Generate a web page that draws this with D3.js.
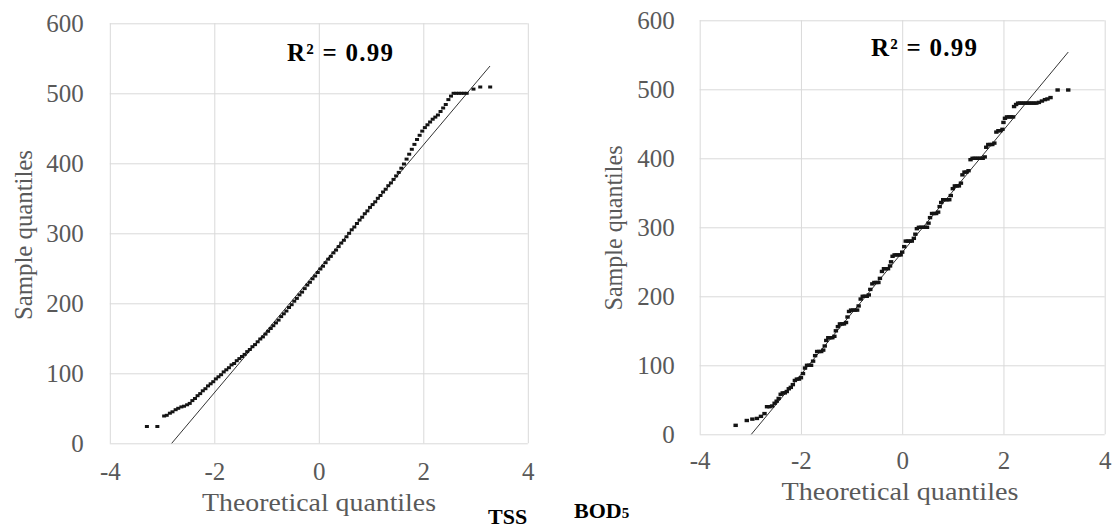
<!DOCTYPE html>
<html>
<head>
<meta charset="utf-8">
<script src="https://cdn.jsdelivr.net/npm/d3@7"></script>
<style>
  body { margin: 0; background: #fff; }
  text { font-family: "Liberation Serif", "Times New Roman", serif; }
</style>
</head>
<body>
<svg id="chart" width="1114" height="530"></svg>
<script>
// tick values shared by both panels
var xTicks = [-4, -2, 0, 2, 4];
var yTicks = [0, 100, 200, 300, 400, 500, 600];
var r2Label = "R\u00B2 = 0.99";
var xTitle = "Theoretical quantiles";
var yTitle = "Sample quantiles";

// TSS: [theoretical quantile, sample quantile]
var tssPoints = [
  [-3.29,24],[-3.09,24],[-2.96,39],[-2.91,40],[-2.85,43],[-2.80,45],[-2.74,48],[-2.69,50],
  [-2.63,52],[-2.58,53],[-2.52,55],[-2.47,57],[-2.42,61],[-2.37,64],[-2.32,68],[-2.27,71],
  [-2.22,75],[-2.17,78],[-2.12,82],[-2.07,85],[-2.02,88],[-1.97,92],[-1.92,95],[-1.87,98],
  [-1.82,102],[-1.77,105],[-1.72,108],[-1.67,112],[-1.62,114],[-1.57,118],[-1.52,121],[-1.47,124],
  [-1.42,127],[-1.37,131],[-1.32,134],[-1.27,138],[-1.22,141],[-1.17,145],[-1.12,149],[-1.07,152],
  [-1.02,156],[-0.97,160],[-0.92,164],[-0.87,168],[-0.82,172],[-0.77,176],[-0.72,181],[-0.67,185],
  [-0.62,189],[-0.57,194],[-0.52,198],[-0.47,203],[-0.42,207],[-0.37,212],[-0.32,216],[-0.27,221],
  [-0.22,226],[-0.17,230],[-0.12,235],[-0.07,239],[-0.02,244],[0.03,249],[0.08,253],[0.13,258],
  [0.18,263],[0.23,267],[0.28,272],[0.33,276],[0.38,281],[0.43,286],[0.48,290],[0.53,295],
  [0.58,300],[0.63,305],[0.68,309],[0.73,314],[0.78,319],[0.83,323],[0.88,328],[0.93,332],
  [0.98,337],[1.03,341],[1.08,345],[1.13,350],[1.18,354],[1.23,359],[1.28,363],[1.33,368],
  [1.38,372],[1.43,377],[1.48,382],[1.53,387],[1.58,393],[1.63,399],[1.68,406],[1.73,413],
  [1.78,420],[1.83,427],[1.88,434],[1.93,440],[1.98,446],[2.03,451],[2.08,455],[2.13,459],
  [2.18,463],[2.23,466],[2.28,469],[2.33,474],[2.38,479],[2.43,484],[2.48,491],[2.53,496],
  [2.58,500],[2.63,500],[2.68,500],[2.73,500],[2.78,500],[2.83,500],[2.96,506],[3.09,509],[3.28,509]
];
var tssFit = [[-2.815,0],[3.277,539]];

// BOD5: [theoretical quantile, sample quantile]
var bodPoints = [
  [-3.29,13],[-3.07,20],[-2.96,22],[-2.87,23],[-2.79,26],[-2.72,30],
  [-2.67,40],[-2.62,40],[-2.57,41],[-2.52,45],[-2.48,48],[-2.44,52],
  [-2.40,58],[-2.36,60],[-2.32,60],[-2.28,62],[-2.24,66],[-2.20,68],[-2.16,72],
  [-2.12,78],[-2.08,80],[-2.04,80],[-2.00,82],[-1.96,88],
  [-1.92,96],[-1.88,100],[-1.84,100],[-1.80,100],[-1.76,106],
  [-1.72,114],[-1.68,120],[-1.64,120],[-1.60,120],[-1.56,122],[-1.53,128],
  [-1.50,136],[-1.46,140],[-1.42,140],[-1.38,140],[-1.34,142],[-1.31,150],
  [-1.27,156],[-1.23,160],[-1.19,160],[-1.15,160],[-1.11,162],[-1.08,170],
  [-1.05,178],[-1.01,180],[-0.97,180],[-0.93,180],[-0.89,180],[-0.86,186],
  [-0.82,196],[-0.78,200],[-0.74,200],[-0.70,200],[-0.66,202],[-0.63,210],
  [-0.59,218],[-0.55,220],[-0.51,220],[-0.47,220],[-0.44,226],
  [-0.40,236],[-0.36,240],[-0.32,240],[-0.28,240],[-0.24,244],[-0.22,250],
  [-0.19,258],[-0.15,260],[-0.11,260],[-0.07,260],[-0.03,260],[0.00,264],
  [0.04,272],[0.07,280],[0.11,280],[0.15,280],[0.19,280],[0.23,284],[0.26,290],
  [0.29,298],[0.33,300],[0.37,300],[0.41,300],[0.45,300],[0.49,300],[0.52,306],
  [0.55,314],[0.59,320],[0.63,320],[0.67,320],[0.71,322],[0.74,330],
  [0.77,336],[0.81,340],[0.85,340],[0.89,340],[0.93,340],[0.96,346],
  [1.00,356],[1.04,360],[1.08,360],[1.12,360],[1.16,364],
  [1.19,376],[1.23,380],[1.27,380],[1.31,382],
  [1.35,398],[1.39,400],[1.43,400],[1.47,400],[1.51,400],[1.55,400],[1.59,400],[1.63,402],
  [1.66,416],[1.70,420],[1.74,420],[1.78,420],[1.82,422],
  [1.86,438],[1.90,440],[1.94,440],[1.98,442],[2.00,452],
  [2.03,458],[2.07,460],[2.11,460],[2.15,460],[2.19,460],[2.21,475],
  [2.25,478],[2.29,480],[2.33,480],[2.37,480],[2.41,480],[2.45,480],[2.49,480],[2.53,480],
  [2.57,480],[2.61,480],[2.65,480],[2.70,481],
  [2.76,483],[2.82,485],[2.87,486],[2.93,488],[3.07,499],[3.28,499]
];
var bodFit = [[-2.98,0],[3.28,554]];

var svg = d3.select("#chart");

var panels = [
  { points: tssPoints, fit: tssFit, x0: 109.8, x1: 527.8, y0: 443.3, y1: 23.3,
    yLabelPad: 26, xLabelPad: 19, xTitleX: 319, xTitleY: 511, xTitleLen: 234,
    yTitleX: 23, yTitleY: 235, yTitleLen: 170, r2X: 287, r2Y: 61,
    ptW: 4, ptH: 3,
    name: "TSS", sub: "", nameX: 488, nameY: 524 },
  { points: bodPoints, fit: bodFit, x0: 699.7, x1: 1104.7, y0: 434.3, y1: 20.3,
    yLabelPad: 25, xLabelPad: 17, xTitleX: 900, xTitleY: 500, xTitleLen: 237,
    yTitleX: 613, yTitleY: 228, yTitleLen: 165, r2X: 871, r2Y: 56,
    ptW: 4.4, ptH: 3.4,
    name: "BOD", sub: "5", nameX: 574, nameY: 518 }
];

panels.forEach(function (p) {
  var x = d3.scaleLinear().domain([-4, 4]).range([p.x0, p.x1]);
  var y = d3.scaleLinear().domain([0, 600]).range([p.y0, p.y1]);
  var w = p.x1 - p.x0, h = p.y0 - p.y1;

  var g = svg.append("g");

  // horizontal grid + y labels
  var yAxis = g.append("g")
    .attr("transform", "translate(" + p.x0 + ",0)")
    .call(d3.axisLeft(y).tickValues(yTicks).tickSize(-w).tickPadding(p.yLabelPad));

  // vertical grid + x labels
  var xAxis = g.append("g")
    .attr("transform", "translate(0," + p.y0 + ")")
    .call(d3.axisBottom(x).tickValues(xTicks).tickSize(-h).tickPadding(p.xLabelPad)
      .tickFormat(function (d) { return d < 0 ? "-" + Math.abs(d) : d; }));

  [yAxis, xAxis].forEach(function (a) {
    a.select(".domain").remove();
    a.selectAll(".tick line").attr("stroke", "#d9d9d9").attr("stroke-width", 1);
    a.selectAll(".tick text")
      .attr("fill", "#595959")
      .style("font-size", "25px")
      .style("font-family", "'Liberation Serif', serif");
  });

  // fitted line
  g.append("line")
    .attr("x1", x(p.fit[0][0])).attr("y1", y(p.fit[0][1]))
    .attr("x2", x(p.fit[1][0])).attr("y2", y(p.fit[1][1]))
    .attr("stroke", "#333").attr("stroke-width", 1);

  // points
  g.selectAll("rect.pt")
    .data(p.points)
    .enter().append("rect")
    .attr("class", "pt")
    .attr("x", function (d) { return x(d[0]) - p.ptW / 2; })
    .attr("y", function (d) { return y(d[1]) - p.ptH / 2; })
    .attr("width", p.ptW)
    .attr("height", p.ptH)
    .attr("fill", "#141414");

  // axis titles
  g.append("text")
    .attr("x", p.xTitleX).attr("y", p.xTitleY)
    .attr("text-anchor", "middle")
    .attr("fill", "#595959")
    .attr("textLength", p.xTitleLen)
    .attr("lengthAdjust", "spacingAndGlyphs")
    .style("font-size", "26px")
    .text(xTitle);

  g.append("text")
    .attr("transform", "translate(" + p.yTitleX + "," + p.yTitleY + ") rotate(-90)")
    .attr("text-anchor", "middle")
    .attr("dy", "0.35em")
    .attr("fill", "#595959")
    .attr("textLength", p.yTitleLen)
    .attr("lengthAdjust", "spacingAndGlyphs")
    .style("font-size", "26px")
    .text(yTitle);

  // R squared
  g.append("text")
    .attr("x", p.r2X).attr("y", p.r2Y)
    .attr("fill", "#000")
    .attr("textLength", 106)
    .style("font-size", "25px")
    .style("font-weight", "bold")
    .text(r2Label);

  // panel name
  var nm = g.append("text")
    .attr("x", p.nameX).attr("y", p.nameY)
    .attr("fill", "#000")
    .style("font-size", "22px")
    .style("font-weight", "bold")
    .text(p.name);
  if (p.sub) {
    nm.append("tspan").style("font-size", "15px").text(p.sub);
  }
});
</script>
</body>
</html>
